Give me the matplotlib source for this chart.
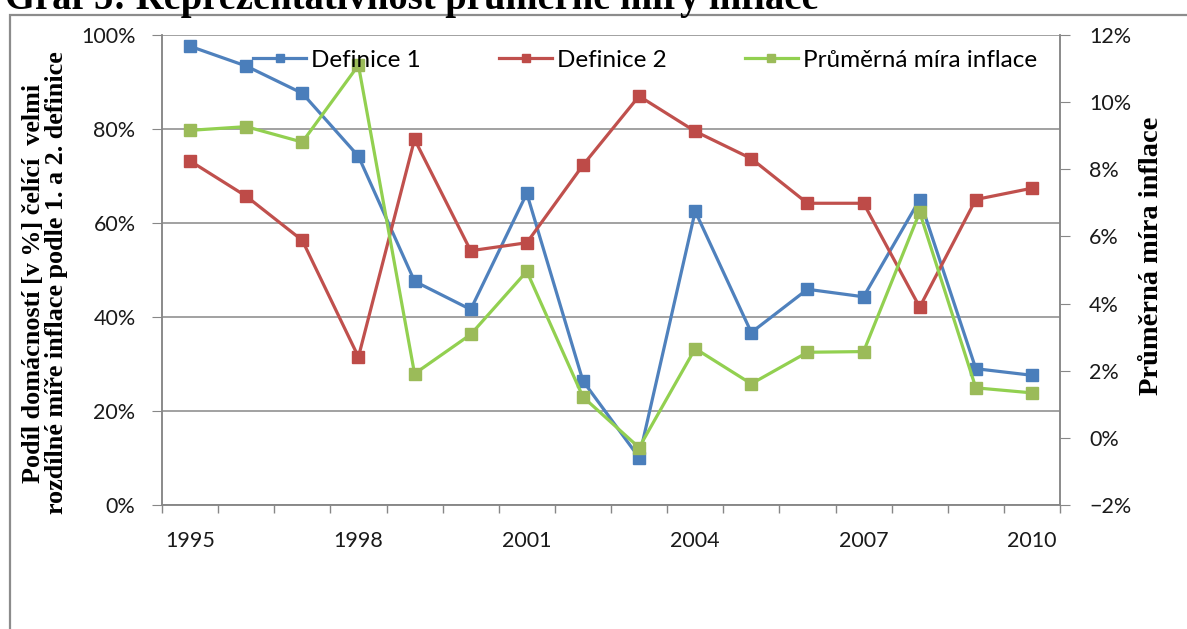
import numpy as np
import matplotlib.pyplot as plt
from matplotlib.patches import Rectangle
from matplotlib.ticker import FixedLocator, PercentFormatter

# data
years = list(range(1995, 2011))
definice1 = [97.6, 93.4, 87.6, 74.2, 47.6, 41.6, 66.3, 26.4, 10.1, 62.5,
             36.7, 45.9, 44.3, 65.0, 29.0, 27.6]
definice2 = [73.2, 65.7, 56.3, 31.5, 77.8, 54.1, 55.8, 72.3, 87.0, 79.5,
             73.7, 64.2, 64.2, 42.1, 65.0, 67.4]
inflace = [9.16, 9.27, 8.81, 11.10, 1.91, 3.08, 4.96, 1.22, -0.29, 2.66,
           1.61, 2.55, 2.57, 6.72, 1.49, 1.34]
shown_years = [1995, 1998, 2001, 2004, 2007, 2010]

blue_line, blue_mark = '#4F81BD', '#4A7EBB'
red_line, red_mark = '#C0504D', '#BE4B48'
green_line, green_mark = '#92D050', '#9BBB59'
axis_grey = '#878787'
sans = 'Lato'
serif = 'Liberation Serif'

fig = plt.figure(figsize=(11.87, 6.29), dpi=100)
W, H = 1187, 629

# outer chart frame (only top and left edges are visible)
fig.patches.append(Rectangle((10 / W, -0.1), 1.2, 1 - 15 / H + 0.1,
                             transform=fig.transFigure, fill=False,
                             edgecolor='#8C8C8C', linewidth=1.6))

# cut-off title
fig.text(5 / W, 1 - 9 / H, 'Graf 5: Reprezentativnost průměrné míry inflace',
         family=serif, fontweight='bold', fontsize=27.8, ha='left', va='baseline')

ax = fig.add_axes([162 / W, 1 - 505 / H, 898 / W, 470 / H])
ax2 = ax.twinx()
x = np.arange(len(years))

kw = dict(linewidth=2.3, marker='s', markersize=8.5)
ax.plot(x, definice1, color=blue_line, markerfacecolor=blue_mark,
        markeredgecolor=blue_mark, label='Definice 1', **kw)
ax.plot(x, definice2, color=red_line, markerfacecolor=red_mark,
        markeredgecolor=red_mark, label='Definice 2', **kw)
ax2.plot(x, inflace, color=green_line, markerfacecolor=green_mark,
         markeredgecolor=green_mark, label='Průměrná míra inflace', **kw)

ax.set_xlim(-0.5, len(years) - 0.5)
ax.set_ylim(0, 100)
ax2.set_ylim(-2, 12)

ax.set_yticks(np.arange(0, 101, 20))
ax.yaxis.set_major_formatter(PercentFormatter(decimals=0))
ax2.set_yticks(np.arange(-2, 13, 2))
ax2.yaxis.set_major_formatter(PercentFormatter(decimals=0))
ax.grid(axis='y', color=axis_grey, linewidth=1.1)

# category axis: ticks between categories, labels every 3rd year
ax.xaxis.set_major_locator(FixedLocator(np.arange(-0.5, len(years), 1)))
ax.xaxis.set_major_formatter(plt.NullFormatter())
ax.xaxis.set_minor_locator(FixedLocator([years.index(y) for y in shown_years]))
ax.set_xticklabels([str(y) for y in shown_years], minor=True)
ax.tick_params(axis='x', which='major', direction='out', length=6,
               color=axis_grey, width=1)
ax.tick_params(axis='x', which='minor', length=0, pad=19)
ax.tick_params(axis='y', direction='out', length=7, color=axis_grey, pad=12)
ax2.tick_params(axis='y', direction='out', length=7, color=axis_grey, pad=14)

for a in (ax, ax2):
    for lab in a.get_xticklabels(minor=True) + a.get_yticklabels():
        lab.set_fontfamily(sans)
        lab.set_fontsize(15.5)
        lab.set_color('#1a1a1a')
    for s in a.spines.values():
        s.set_color(axis_grey)
        s.set_linewidth(1.1)
    a.spines['top'].set_visible(False)

fig.text(45 / W, 1 - 283 / H,
         'Podíl domácností [v %] čelící  velmi\n'
         'rozdílné míře inflace podle 1. a 2. definice',
         rotation=90, family=serif, fontweight='bold', fontsize=18.8,
         ha='center', va='center', linespacing=0.95)
fig.text(1152 / W, 1 - 256 / H, 'Průměrná míra inflace', rotation=90,
         family=serif, fontweight='bold', fontsize=20.5, ha='center',
         va='center')

handles = ax.get_lines() + ax2.get_lines()
leg = ax2.legend(handles, [h.get_label() for h in handles], ncol=3,
                 loc='center', bbox_to_anchor=(645 / W, 1 - 60 / H),
                 bbox_transform=fig.transFigure, frameon=False,
                 prop={'family': sans, 'size': 17.5}, handlelength=2.2,
                 handletextpad=0.2, columnspacing=3.2, markerscale=0.7)

fig.savefig('out.png', dpi=100)
